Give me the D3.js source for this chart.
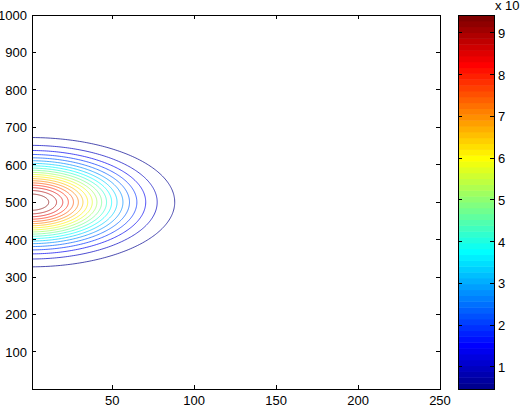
<!DOCTYPE html>
<html>
<head>
<meta charset="utf-8">
<script src="https://cdn.jsdelivr.net/npm/d3@7.9.0/dist/d3.min.js"></script>
<style>
  body { margin: 0; background: #fff; }
  text { font-family: "Liberation Sans", Arial, sans-serif; font-size: 13px; fill: #000; }
</style>
</head>
<body>
<svg id="chart"></svg>
<script>
// contour levels (values x 10^k) and the size of each closed contour
const levels = [0.471, 0.943, 1.414, 1.886, 2.357, 2.829, 3.300, 3.771, 4.243, 4.714,
                5.186, 5.657, 6.129, 6.600, 7.071, 7.543, 8.014, 8.486, 8.957, 9.429];
const reachX = [88.1, 77.4, 70.4, 65.0, 60.5, 56.5, 52.9, 49.6, 46.5, 43.5,
                40.6, 37.8, 35.0, 32.1, 29.3, 26.3, 23.2, 19.8, 16.0, 11.2];
const halfY = [172.7, 151.8, 138.1, 127.5, 118.6, 110.8, 103.8, 97.3, 91.1, 85.3,
               79.6, 74.1, 68.6, 63.0, 57.4, 51.6, 45.5, 38.9, 31.3, 21.9];
const centerX = 0;
const centerY = 500;

const xTicks = [50, 100, 150, 200, 250];
const yTicks = [100, 200, 300, 400, 500, 600, 700, 800, 900, 1000];
const cbTicks = [1, 2, 3, 4, 5, 6, 7, 8, 9];

const W = 524, H = 420;
const plot = { left: 32, right: 440, top: 15, bottom: 389 };
const bar = { left: 458, right: 494 };

const svg = d3.select("#chart").attr("width", W).attr("height", H);

const x = d3.scaleLinear().domain([1, 250]).range([plot.left, plot.right]);
const y = d3.scaleLinear().domain([1, 1000]).range([plot.bottom, plot.top]);

// matlab jet(64)
function u(k) {
    if (k < 0 || k > 46) return 0;
    if (k < 16) return (k + 1) / 16;
    if (k < 31) return 1;
    return (47 - k) / 16;
}
const jet = d3.range(1, 65).map(p => d3.rgb(255 * u(p - 25), 255 * u(p - 9), 255 * u(p + 7)).toString());

const cmin = d3.min(levels), cmax = d3.max(levels);
const colorOf = l => {
    let i = Math.floor((l - cmin) / (cmax - cmin) * 64);
    return jet[Math.max(0, Math.min(63, i))];
};

svg.append("clipPath").attr("id", "clip")
    .append("rect")
    .attr("x", plot.left).attr("y", plot.top)
    .attr("width", plot.right - plot.left).attr("height", plot.bottom - plot.top);

const line = d3.line().x(d => x(d[0])).y(d => y(d[1]));
const angles = d3.range(0, 181).map(a => (a - 90) * Math.PI / 180);

svg.append("g")
    .attr("clip-path", "url(#clip)")
    .selectAll("path")
    .data(levels)
    .enter()
    .append("path")
    .attr("d", (l, i) => line(angles.map(t => [centerX + reachX[i] * Math.cos(t), centerY + halfY[i] * Math.sin(t)])))
    .attr("fill", "none")
    .attr("stroke", l => colorOf(l))
    .attr("stroke-opacity", 0.7)
    .attr("stroke-width", 1);

// box with inward ticks on all sides
const axes = svg.append("g").attr("stroke", "#000").attr("shape-rendering", "crispEdges");
axes.append("rect")
    .attr("x", plot.left).attr("y", plot.top)
    .attr("width", plot.right - plot.left).attr("height", plot.bottom - plot.top)
    .attr("fill", "none");

xTicks.forEach(t => {
    axes.append("line").attr("x1", x(t)).attr("x2", x(t)).attr("y1", plot.bottom).attr("y2", plot.bottom - 4);
    axes.append("line").attr("x1", x(t)).attr("x2", x(t)).attr("y1", plot.top).attr("y2", plot.top + 4);
});
yTicks.forEach(t => {
    axes.append("line").attr("x1", plot.left).attr("x2", plot.left + 4).attr("y1", y(t)).attr("y2", y(t));
    axes.append("line").attr("x1", plot.right).attr("x2", plot.right - 4).attr("y1", y(t)).attr("y2", y(t));
});

svg.selectAll(".xlab")
    .data(xTicks)
    .enter()
    .append("text")
    .attr("x", d => x(d))
    .attr("y", plot.bottom + 16)
    .style("text-anchor", "middle")
    .text(d => d);

svg.selectAll(".ylab")
    .data(yTicks)
    .enter()
    .append("text")
    .attr("x", plot.left - 5)
    .attr("y", d => y(d) + 5)
    .style("text-anchor", "end")
    .text(d => d);

// colorbar
const cy = d3.scaleLinear().domain([cmin, cmax]).range([plot.bottom, plot.top]);
const step = (cmax - cmin) / 64;
svg.append("g")
    .selectAll("rect")
    .data(jet)
    .enter()
    .append("rect")
    .attr("x", bar.left)
    .attr("width", bar.right - bar.left)
    .attr("y", (c, i) => cy(cmin + (i + 1) * step))
    .attr("height", (c, i) => cy(cmin + i * step) - cy(cmin + (i + 1) * step) + 0.5)
    .attr("fill", c => c);

const cbAxes = svg.append("g").attr("stroke", "#000").attr("shape-rendering", "crispEdges");
cbAxes.append("rect")
    .attr("x", bar.left).attr("y", plot.top)
    .attr("width", bar.right - bar.left).attr("height", plot.bottom - plot.top)
    .attr("fill", "none");
cbTicks.forEach(t => {
    cbAxes.append("line").attr("x1", bar.right).attr("x2", bar.right - 4).attr("y1", cy(t)).attr("y2", cy(t));
    cbAxes.append("line").attr("x1", bar.left).attr("x2", bar.left + 4).attr("y1", cy(t)).attr("y2", cy(t));
});

svg.selectAll(".cblab")
    .data(cbTicks)
    .enter()
    .append("text")
    .attr("x", bar.right + 4)
    .attr("y", d => cy(d) + 5)
    .text(d => d);

svg.append("text")
    .attr("x", 495)
    .attr("y", 10)
    .text("x 10");
</script>
</body>
</html>
